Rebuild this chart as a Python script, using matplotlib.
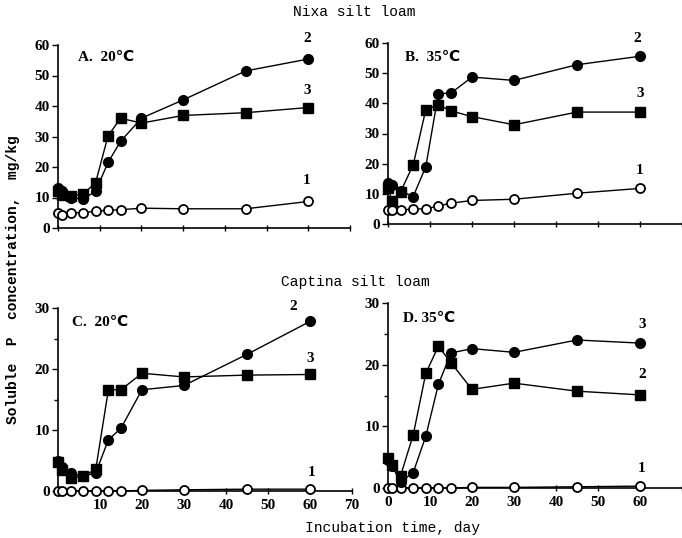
import matplotlib
matplotlib.use("Agg")
import matplotlib.pyplot as plt
from matplotlib.ticker import MultipleLocator

days = [0, 1, 3, 6, 9, 12, 15, 20, 30, 45, 60]

# Nixa silt loam
a_1 = [4.8, 4.3, 5.0, 5.0, 5.5, 5.8, 6.0, 6.5, 6.3, 6.3, 8.7]
a_2 = [13.0, 12.0, 10.0, 9.5, 12.0, 21.5, 28.4, 36.0, 42.0, 51.5, 55.4]
a_3 = [12.0, 10.9, 10.4, 11.1, 14.8, 30.2, 36.0, 34.4, 36.9, 37.8, 39.5]
b_1 = [4.6, 4.6, 4.6, 5.0, 5.0, 6.0, 6.9, 7.8, 8.2, 10.2, 11.8]
b_2 = [13.5, 13.0, 11.0, 9.1, 19.0, 43.2, 43.4, 48.7, 47.6, 52.8, 55.6]
b_3 = [12.0, 7.5, 10.7, 19.6, 37.9, 39.5, 37.5, 35.6, 32.9, 37.1, 37.1]

# Captina silt loam
c_1 = [0.0, 0.0, 0.0, 0.0, 0.0, 0.0, 0.0, 0.1, 0.2, 0.3, 0.3]
c_2 = [5.0, 4.0, 3.0, 2.4, 3.0, 8.4, 10.3, 16.6, 17.3, 22.4, 27.8]
c_3 = [4.8, 3.5, 2.2, 2.4, 3.6, 16.6, 16.6, 19.3, 18.7, 19.0, 19.1]
d_1 = [0.0, 0.0, 0.0, 0.0, 0.0, 0.0, 0.0, 0.1, 0.1, 0.2, 0.3]
d_circ = [4.5, 3.5, 1.0, 2.5, 8.4, 16.8, 21.9, 22.6, 22.0, 24.0, 23.5]
d_sq = [4.8, 3.7, 2.0, 8.6, 18.6, 23.0, 20.3, 16.0, 17.0, 15.7, 15.1]

W, H = 682, 538
fig = plt.figure(figsize=(W / 100, H / 100), dpi=100)

num_font = dict(family=['Liberation Serif', 'DejaVu Sans'], fontweight='bold', fontsize=11)
mono = dict(family=['Liberation Mono', 'DejaVu Sans Mono'], fontsize=10.5)


def make_ax(left, y0, ytop, right, ymax, step):
    ax = fig.add_axes([left / W, (H - y0) / H, (right - left) / W, (y0 - ytop) / H])
    ax.set_xlim(0, 70)
    ax.set_ylim(0, ymax)
    ax.spines['top'].set_visible(False)
    ax.spines['right'].set_visible(False)
    ax.xaxis.set_major_locator(MultipleLocator(10))
    ax.yaxis.set_major_locator(MultipleLocator(step))
    ax.tick_params(axis='x', direction='inout', length=5, width=1)
    ax.tick_params(axis='y', direction='out', length=4, width=1, pad=2)
    for s in ('left', 'bottom'):
        ax.spines[s].set_linewidth(1.2)
    ax.patch.set_alpha(0)
    return ax


def draw(ax, open_y, circ_y, sq_y):
    ax.plot(days, open_y, '-o', color='black', mfc='white', mec='black', mew=1.3,
            ms=6.5, lw=1, clip_on=False, zorder=3)
    ax.plot(days, sq_y, '-s', color='black', ms=6.5, lw=1, clip_on=False, zorder=3)
    ax.plot(days, circ_y, '-o', color='black', ms=7, lw=1, clip_on=False, zorder=4)


axA = make_ax(58, 228, 45, 350, 60, 10)
draw(axA, a_1, a_2, a_3)
axA.set_xticklabels([])
axB = make_ax(388, 224, 43, 682, 60, 10)
draw(axB, b_1, b_2, b_3)
axB.set_xticklabels([])

axC = make_ax(58, 491, 308, 352, 30, 10)
draw(axC, c_1, c_2, c_3)
axC.set_xticks(range(0, 80, 10))
axC.set_xticklabels([''] + [str(v) for v in range(10, 80, 10)])
axD = make_ax(388, 488, 303, 682, 30, 10)
draw(axD, d_1, d_circ, d_sq)
axD.set_xticks(range(0, 80, 10))
axD.set_xticklabels([str(v) for v in range(0, 70, 10)] + [''])

for ax in (axC, axD):
    ax.yaxis.set_minor_locator(MultipleLocator(5))
    ax.tick_params(axis='y', which='minor', direction='out', length=3, width=1)

for ax in (axA, axB, axC, axD):
    for lab in ax.get_xticklabels() + ax.get_yticklabels():
        lab.set_fontfamily(num_font['family'])
        lab.set_fontweight('bold')
        lab.set_fontsize(11)

# panel captions
fig.text(78 / W, 1 - 57 / H, 'A.  20℃', va='center', **num_font)
fig.text(405 / W, 1 - 57 / H, 'B.  35℃', va='center', **num_font)
fig.text(72 / W, 1 - 322 / H, 'C.  20℃', va='center', **num_font)
fig.text(403 / W, 1 - 318 / H, 'D. 35℃', va='center', **num_font)

# curve numbers
labels = [(307, 38, '2'), (307, 90, '3'), (307, 180, '1'),
          (637, 38, '2'), (640, 93, '3'), (640, 170, '1'),
          (293, 307, '2'), (310, 358, '3'), (312, 472, '1'),
          (642, 325, '3'), (642, 375, '2'), (642, 468, '1')]
for x, y, t in labels:
    fig.text(x / W, 1 - y / H, t, ha='center', va='center', **num_font)

fig.text(354 / W, 1 - 12 / H, 'Nixa silt loam', ha='center', va='center', **mono)
fig.text(355 / W, 1 - 282 / H, 'Captina silt loam', ha='center', va='center', **mono)
fig.text(392 / W, 1 - 528 / H, 'Incubation time, day', ha='center', va='center', **mono)
fig.text(13 / W, 1 - 280 / H, 'Soluble  P  concentration,  mg/kg', rotation=90,
         ha='center', va='center', fontweight='bold', **mono)

fig.savefig('out.png', dpi=100)
